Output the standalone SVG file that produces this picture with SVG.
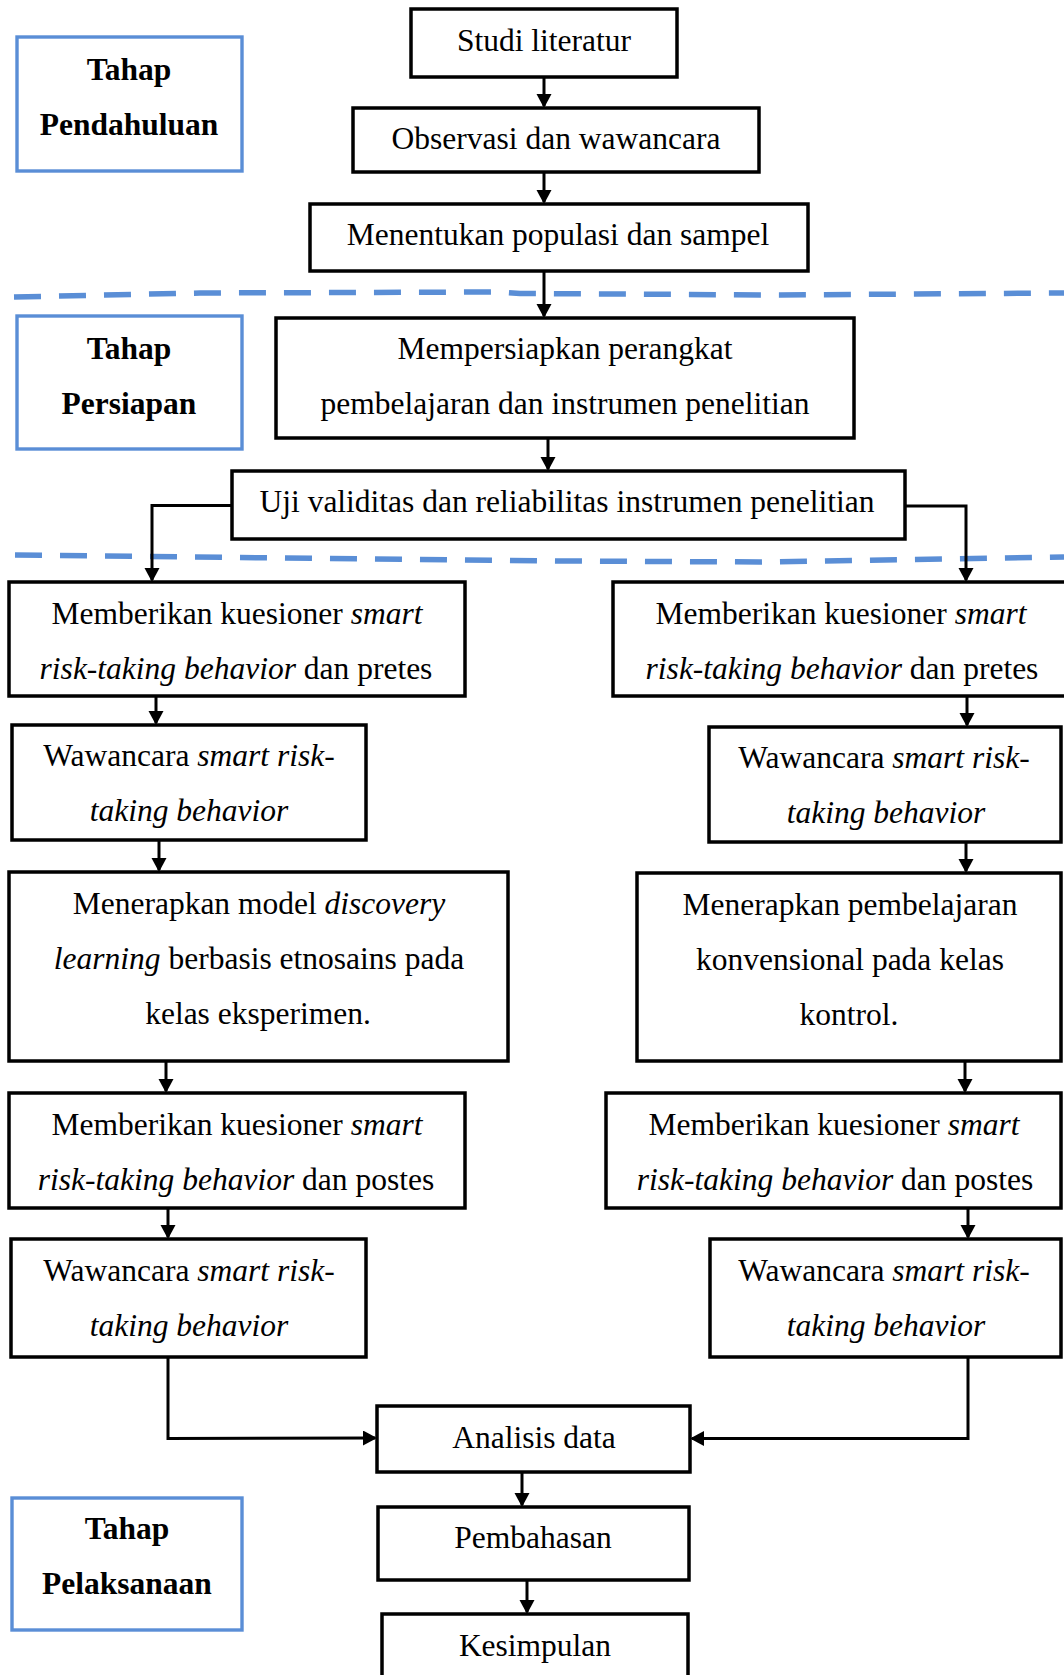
<svg xmlns="http://www.w3.org/2000/svg" width="1064" height="1675" viewBox="0 0 1064 1675">
<style>
.b{fill:#fff;stroke:#000;stroke-width:3.5}
.s{fill:#fff;stroke:#5A8ED6;stroke-width:3.4}
text{font-family:"Liberation Serif","Times New Roman",serif;font-size:31.5px;fill:#000;text-anchor:middle;transform:translateY(1.5px)}
.h{font-weight:bold}
.i{font-style:italic}
.c{fill:none;stroke:#000;stroke-width:3}
.d{fill:none;stroke:#5A8ED6;stroke-width:5.5;stroke-dasharray:27 18}
</style>
<defs>
<marker id="a" markerUnits="userSpaceOnUse" markerWidth="18" markerHeight="18" refX="12" refY="7.5" orient="auto">
<path d="M0,0 L14,7.5 L0,15 z" fill="#000"/>
</marker>
</defs>
<g id="dividers">
<polyline class="d" points="14,297 200,293 500,292 520,293.5 780,295 1064,293"/>
<polyline class="d" points="15,555 560,561 760,562 1064,557"/>
</g>
<g id="connectors">
<line class="c" x1="544" y1="77" x2="544" y2="106" marker-end="url(#a)"/>
<line class="c" x1="544" y1="172" x2="544" y2="202" marker-end="url(#a)"/>
<line class="c" x1="544" y1="271" x2="544" y2="316" marker-end="url(#a)"/>
<line class="c" x1="548" y1="438" x2="548" y2="469" marker-end="url(#a)"/>
<polyline class="c" points="232,505.5 152,505.5 152,580" marker-end="url(#a)"/>
<polyline class="c" points="905,506 966,506 966,580" marker-end="url(#a)"/>
<line class="c" x1="156" y1="696" x2="156" y2="723" marker-end="url(#a)"/>
<line class="c" x1="967" y1="696" x2="967" y2="725" marker-end="url(#a)"/>
<line class="c" x1="159" y1="840" x2="159" y2="870" marker-end="url(#a)"/>
<line class="c" x1="966" y1="842" x2="966" y2="871" marker-end="url(#a)"/>
<line class="c" x1="166" y1="1061" x2="166" y2="1091" marker-end="url(#a)"/>
<line class="c" x1="965" y1="1061" x2="965" y2="1091" marker-end="url(#a)"/>
<line class="c" x1="168" y1="1208" x2="168" y2="1237" marker-end="url(#a)"/>
<line class="c" x1="968" y1="1208" x2="968" y2="1237" marker-end="url(#a)"/>
<polyline class="c" points="168,1357 168,1438.5 375,1438" marker-end="url(#a)"/>
<polyline class="c" points="968,1357 968,1438.5 692,1438.5" marker-end="url(#a)"/>
<line class="c" x1="522" y1="1472" x2="522" y2="1505" marker-end="url(#a)"/>
<line class="c" x1="527" y1="1580" x2="527" y2="1612" marker-end="url(#a)"/>
</g>
<g id="tahap-pendahuluan">
<rect class="s" x="17" y="37" width="225" height="134"/>
<text class="h" x="129" y="78">Tahap</text>
<text class="h" x="129" y="133">Pendahuluan</text>
</g>
<g id="tahap-persiapan">
<rect class="s" x="17" y="316" width="225" height="133"/>
<text class="h" x="129" y="357">Tahap</text>
<text class="h" x="129" y="412">Persiapan</text>
</g>
<g id="tahap-pelaksanaan">
<rect class="s" x="12" y="1498" width="230" height="132"/>
<text class="h" x="127" y="1537">Tahap</text>
<text class="h" x="127" y="1592">Pelaksanaan</text>
</g>
<g id="studi">
<rect class="b" x="411" y="9" width="266" height="68"/>
<text x="544" y="49">Studi literatur</text>
</g>
<g id="observasi">
<rect class="b" x="353" y="108" width="406" height="64"/>
<text x="556" y="147">Observasi dan wawancara</text>
</g>
<g id="menentukan">
<rect class="b" x="310" y="204" width="498" height="67"/>
<text x="558" y="243">Menentukan populasi dan sampel</text>
</g>
<g id="mempersiapkan">
<rect class="b" x="276" y="318" width="578" height="120"/>
<text x="565" y="357">Mempersiapkan perangkat</text>
<text x="565" y="412">pembelajaran dan instrumen penelitian</text>
</g>
<g id="uji">
<rect class="b" x="232" y="471" width="673" height="68"/>
<text x="567" y="510">Uji validitas dan reliabilitas instrumen penelitian</text>
</g>
<g id="pretes-eksperimen">
<rect class="b" x="9" y="582" width="456" height="114"/>
<text x="237" y="622">Memberikan kuesioner <tspan class="i">smart</tspan></text>
<text x="236" y="677"><tspan class="i">risk-taking behavior</tspan> dan pretes</text>
</g>
<g id="pretes-kontrol">
<rect class="b" x="613" y="582" width="460" height="114"/>
<text x="841" y="622">Memberikan kuesioner <tspan class="i">smart</tspan></text>
<text x="842" y="677"><tspan class="i">risk-taking behavior</tspan> dan pretes</text>
</g>
<g id="wawancara-1-eksperimen">
<rect class="b" x="12" y="725" width="354" height="115"/>
<text x="189" y="764">Wawancara <tspan class="i">smart risk-</tspan></text>
<text x="189" y="819" class="i">taking behavior</text>
</g>
<g id="wawancara-1-kontrol">
<rect class="b" x="709" y="727" width="352" height="115"/>
<text x="884" y="766">Wawancara <tspan class="i">smart risk-</tspan></text>
<text x="886" y="821" class="i">taking behavior</text>
</g>
<g id="menerapkan-eksperimen">
<rect class="b" x="9" y="872" width="499" height="189"/>
<text x="259" y="912">Menerapkan model <tspan class="i">discovery</tspan></text>
<text x="259" y="967"><tspan class="i">learning</tspan> berbasis etnosains pada</text>
<text x="258" y="1022">kelas eksperimen.</text>
</g>
<g id="menerapkan-kontrol">
<rect class="b" x="637" y="873" width="424" height="188"/>
<text x="850" y="913">Menerapkan pembelajaran</text>
<text x="850" y="968">konvensional pada kelas</text>
<text x="849" y="1023">kontrol.</text>
</g>
<g id="postes-eksperimen">
<rect class="b" x="9" y="1093" width="456" height="115"/>
<text x="237" y="1133">Memberikan kuesioner <tspan class="i">smart</tspan></text>
<text x="236" y="1188"><tspan class="i">risk-taking behavior</tspan> dan postes</text>
</g>
<g id="postes-kontrol">
<rect class="b" x="606" y="1093" width="455" height="115"/>
<text x="834" y="1133">Memberikan kuesioner <tspan class="i">smart</tspan></text>
<text x="835" y="1188"><tspan class="i">risk-taking behavior</tspan> dan postes</text>
</g>
<g id="wawancara-2-eksperimen">
<rect class="b" x="11" y="1239" width="355" height="118"/>
<text x="189" y="1279">Wawancara <tspan class="i">smart risk-</tspan></text>
<text x="189" y="1334" class="i">taking behavior</text>
</g>
<g id="wawancara-2-kontrol">
<rect class="b" x="710" y="1239" width="351" height="118"/>
<text x="884" y="1279">Wawancara <tspan class="i">smart risk-</tspan></text>
<text x="886" y="1334" class="i">taking behavior</text>
</g>
<g id="analisis">
<rect class="b" x="377" y="1406" width="313" height="66"/>
<text x="534" y="1446">Analisis data</text>
</g>
<g id="pembahasan">
<rect class="b" x="378" y="1507" width="311" height="73"/>
<text x="533" y="1546">Pembahasan</text>
</g>
<g id="kesimpulan">
<rect class="b" x="382" y="1614" width="306" height="80"/>
<text x="535" y="1654">Kesimpulan</text>
</g>
</svg>
